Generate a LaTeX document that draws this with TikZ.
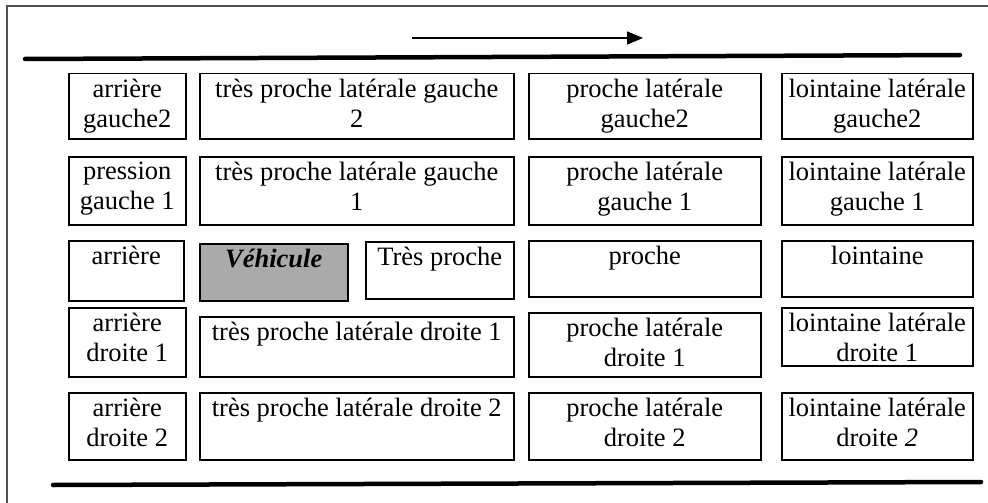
\documentclass[tikz,border=0pt]{standalone}
\usepackage{fontspec}
\setmainfont{Liberation Serif}
\usetikzlibrary{arrows.meta,positioning}
\definecolor{vehgray}{RGB}{170,170,170}
\definecolor{framegray}{RGB}{80,80,80}

\begin{document}
\begin{tikzpicture}[x=1pt, y=-1pt,
                zone/.style = {draw, line width=1.5pt, rectangle, anchor=north west, inner sep=0pt},
                lbl/.style = {anchor=north, align=center, inner sep=0pt, yshift=-6pt,
                              font=\fontsize{26.5}{30}\selectfont},
                road/.style = {line width=4.5pt, line cap=round}
                ]
                \useasboundingbox (0,0) rectangle (988,503);
                \draw[framegray, line width=1.2pt] (7,503) -- (7,6) -- (988,6);

                \coordinate (roadNW) at (25,59);
                \coordinate (roadNE) at (960,55);
                \coordinate (roadSW) at (53,485);
                \coordinate (roadSE) at (981,482);
                \coordinate (sensS) at (412,38);
                \coordinate (sensE) at (643,38);
                \draw[road] (roadNW) -- (roadNE);
                \draw[road] (roadSW) -- (roadSE);
                \draw[line width=1.5pt, -{Triangle[length=16pt,width=13pt]}] (sensS) -- (sensE);

                % rangee gauche 2
                \node[zone, minimum width=117pt, minimum height=65pt, label={[lbl]north:arrière\\gauche2}] (arg2) at (68,73) {};
                \node[zone, minimum width=314pt, minimum height=65pt, label={[lbl]north:très proche latérale gauche\\2}] (tplg2) at (199,73) {};
                \node[zone, minimum width=232pt, minimum height=65pt, label={[lbl]north:proche latérale\\gauche2}] (plg2) at (528,73) {};
                \node[zone, minimum width=191pt, minimum height=65pt, label={[lbl]north:lointaine latérale\\gauche2}] (llg2) at (781,73) {};

                % rangee gauche 1
                \node[zone, minimum width=117pt, minimum height=68pt, label={[lbl]north:pression\\gauche 1}] (prg1) at (68,156) {};
                \node[zone, minimum width=314pt, minimum height=68pt, label={[lbl]north:très proche latérale gauche\\1}] (tplg1) at (199,156) {};
                \node[zone, minimum width=232pt, minimum height=68pt, label={[lbl]north:proche latérale\\gauche 1}] (plg1) at (528,156) {};
                \node[zone, minimum width=191pt, minimum height=68pt, label={[lbl]north:lointaine latérale\\gauche 1}] (llg1) at (781,156) {};

                % rangee du vehicule
                \node[zone, minimum width=115pt, minimum height=60pt, label={[lbl]north:arrière}] (arr) at (68,240) {};
                \node[zone, fill=vehgray, minimum width=148pt, minimum height=57pt, label={[lbl]north:\textbf{\textit{Véhicule}}}] (veh) at (199,243) {};
                \node[zone, minimum width=148pt, minimum height=57pt, label={[lbl]north:Très proche}] (tp) at (365,241) {};
                \node[zone, minimum width=232pt, minimum height=56pt, label={[lbl]north:proche}] (pr) at (528,240) {};
                \node[zone, minimum width=191pt, minimum height=56pt, label={[lbl]north:lointaine}] (lo) at (781,240) {};

                % rangee droite 1
                \node[zone, minimum width=117pt, minimum height=69pt, label={[lbl]north:arrière\\droite 1}] (ard1) at (68,307) {};
                \node[zone, minimum width=314pt, minimum height=60pt, label={[lbl]north:très proche latérale droite 1}] (tpld1) at (199,316) {};
                \node[zone, minimum width=232pt, minimum height=64pt, label={[lbl]north:proche latérale\\droite 1}] (pld1) at (528,312) {};
                \node[zone, minimum width=191pt, minimum height=58pt, label={[lbl]north:lointaine latérale\\droite 1}] (lld1) at (781,307) {};

                % rangee droite 2
                \node[zone, minimum width=117pt, minimum height=67pt, label={[lbl]north:arrière\\droite 2}] (ard2) at (68,392) {};
                \node[zone, minimum width=314pt, minimum height=67pt, label={[lbl]north:très proche latérale droite 2}] (tpld2) at (199,392) {};
                \node[zone, minimum width=232pt, minimum height=67pt, label={[lbl]north:proche latérale\\droite 2}] (pld2) at (528,392) {};
                \node[zone, minimum width=191pt, minimum height=67pt, label={[lbl]north:lointaine latérale\\droite \textit{2}}] (lld2) at (781,392) {};
\end{tikzpicture}
\end{document}
